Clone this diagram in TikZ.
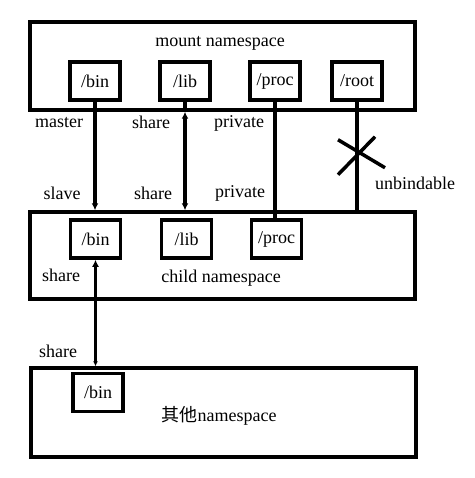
\documentclass[tikz,border=0pt]{standalone}
\usepackage{fontspec}
\setmainfont{Liberation Serif}
\newfontfamily\cjk{Noto Sans CJK SC}
\usetikzlibrary{positioning, arrows.meta}

\begin{document}
\begin{tikzpicture}[
    x=1pt, y=-1pt,
    font=\fontsize{18}{20}\selectfont,
    ]
    \tikzstyle{nsbox}=[draw=black, line width=3.5pt, minimum width=385pt, inner sep=0pt]
    \tikzstyle{dirbox}=[draw=black, line width=3.5pt, minimum width=50pt, minimum height=38pt, inner sep=0pt]
    \tikzstyle{link}=[line width=3.5pt]
    \useasboundingbox (0,0) rectangle (474,478);
    % namespaces
    \node[nsbox, minimum height=88pt] (mnt) at (222.5,66) {};
    \node[nsbox, minimum height=87pt] (child) at (222.5,255.5) {};
    \node[nsbox, minimum height=89pt] (other) at (223.5,412.5) {};
    \node (mntlbl) at (220,43) {mount namespace};
    \node (childlbl) at (221,278) {child namespace};
    \node (otherlbl) at (219,416) {{\cjk 其他}namespace};
    % mount points
    \node[dirbox] (bin1) at (95,81) {/bin};
    \node[dirbox] (lib1) at (185,81) {/lib};
    \node[dirbox] (proc1) at (275,81) {/proc};
    \node[dirbox] (root1) at (357,81) {/root};
    \node[dirbox] (bin2) at (95.5,239) {/bin};
    \node[dirbox] (lib2) at (186.5,239) {/lib};
    \node[dirbox] (proc2) at (276.5,239) {/proc};
    \node[dirbox] (bin3) at (98,392.5) {/bin};
    % propagation
    \draw[link, -{Latex[length=7pt,width=7pt]}] (bin1.south) -- (bin1.south |- child.north);
    \draw[link] (lib1.south) -- (lib1 |- mnt.south);
    \draw[link, {Latex[length=7pt,width=7pt]}-{Latex[length=7pt,width=7pt]}] (lib1 |- mnt.south) -- (lib1.south |- child.north);
    \draw[link] (proc1.south) -- (proc1.south |- proc2.north);
    \draw[link] (root1.south) -- (root1.south |- child.north) coordinate[pos=0.47] (xc);
    \draw[link] ([shift={(-19,-13)}]xc) -- ([shift={(28,15)}]xc);
    \draw[link] ([shift={(18,-16)}]xc) -- ([shift={(-19,22)}]xc);
    \draw[link, {Latex[length=7pt,width=7pt]}-{Latex[length=5pt,width=5pt]}] (bin2.south) -- (bin2.south |- other.north);
    % labels
    \node (master) at (59,123) {master};
    \node (share1) at (151,122) {share};
    \node (priv1) at (239,123) {private};
    \node (slave) at (62,193) {slave};
    \node (share2) at (153,193) {share};
    \node (priv2) at (240,193) {private};
    \node (unbind) at (415,183) {unbindable};
    \node (share3) at (61,275) {share};
    \node (share4) at (58,351) {share};
\end{tikzpicture}
\end{document}
